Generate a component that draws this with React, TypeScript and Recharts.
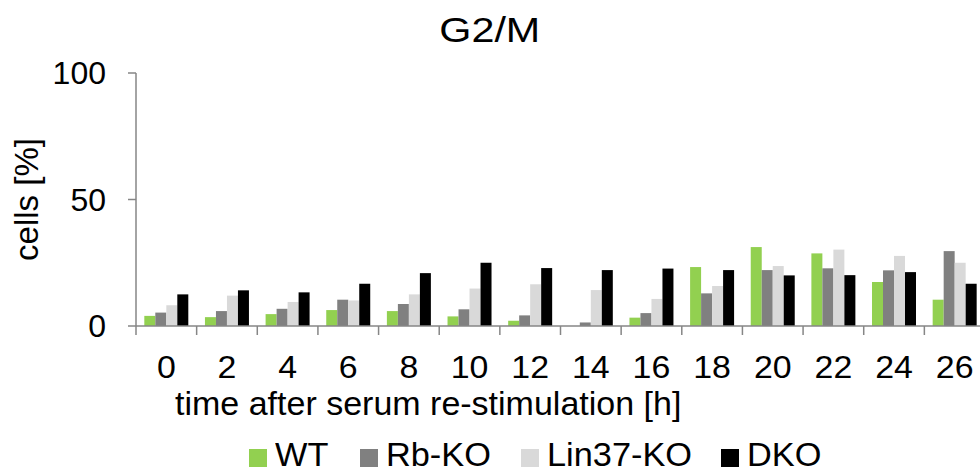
import React from 'react';
import { BarChart, Bar, XAxis, YAxis, Legend } from 'recharts';

const categories = ['0', '2', '4', '6', '8', '10', '12', '14', '16', '18', '20', '22', '24', '26'];
const wt = [4, 3.5, 4.7, 6.3, 5.9, 3.8, 2.1, 0, 3.3, 23.3, 31.2, 28.7, 17.4, 10.4];
const rbKo = [5.3, 5.9, 6.8, 10.4, 8.7, 6.6, 4.2, 1.4, 5.1, 12.9, 22.1, 22.8, 22, 29.6];
const lin37Ko = [8.2, 12, 9.5, 10.1, 12.5, 14.8, 16.5, 14.2, 10.7, 15.8, 23.7, 30.2, 27.7, 25];
const dko = [12.5, 14.1, 13.3, 16.7, 20.9, 25, 22.9, 22.1, 22.7, 22.1, 20, 20.1, 21.3, 16.7];
const yTicks = [0, 50, 100];
const seriesNames = ['WT', 'Rb-KO', 'Lin37-KO', 'DKO'];
const seriesColors = ['#92D050', '#808080', '#D9D9D9', '#000000'];

const data = categories.map((t, i) => ({
  t,
  WT: wt[i],
  'Rb-KO': rbKo[i],
  'Lin37-KO': lin37Ko[i],
  DKO: dko[i],
}));

const FONT = '"Liberation Sans", Arial, sans-serif';
const AXIS = '#868686';

const XTick = (props: any) => {
  const { x, y, payload } = props;
  const half = payload && typeof payload.offset === 'number' && payload.offset > 0 ? payload.offset : 30.3;
  return (
    <g>
      <line x1={x - half} y1={y} x2={x - half} y2={y + 9} stroke={AXIS} strokeWidth={1.5} />
      <text
        x={x}
        y={y + 52}
        textAnchor="middle"
        fontSize={32}
        fontFamily={FONT}
        fill="#000"
        transform={`translate(${x} 0) scale(1.06 1) translate(${-x} 0)`}
      >
        {payload.value}
      </text>
    </g>
  );
};

const XLabel = (props: any) => {
  const vb = props.viewBox || { x: 136, y: 326 };
  return (
    <text x={vb.x + 39} y={vb.y + 89} textAnchor="start" fontSize={34} fontFamily={FONT} fill="#000">
      time after serum re-stimulation [h]
    </text>
  );
};

const YLabel = (props: any) => {
  const vb = props.viewBox || { x: 0, y: 73, width: 136, height: 253 };
  const cx = vb.x + 38;
  const cy = vb.y + vb.height / 2;
  return (
    <text
      x={cx}
      y={cy}
      transform={`rotate(-90, ${cx}, ${cy})`}
      textAnchor="middle"
      fontSize={33}
      fontFamily={FONT}
      fill="#000"
    >
      cells [%]
    </text>
  );
};

const LegendContent = () => {
  return (
    <div style={{ display: 'flex', alignItems: 'flex-start', fontFamily: FONT }}>
      {seriesNames.map((name, i) => (
        <div key={name} style={{ display: 'flex', alignItems: 'flex-start', marginRight: 30 }}>
          <div style={{ width: 18, height: 18, background: seriesColors[i], marginTop: 9.5, marginRight: 8 }} />
          <div
            style={{
              fontSize: 33,
              lineHeight: '30px',
              color: '#000',
              whiteSpace: 'nowrap',
              display: 'inline-block',
              transform: 'scaleX(1.04)',
              transformOrigin: 'left center',
              marginRight: 4,
            }}
          >
            {name}
          </div>
        </div>
      ))}
    </div>
  );
};

export default function App() {
  return (
    <div style={{ position: 'absolute', left: 0, top: 0, width: 980, height: 471, overflow: 'hidden', background: '#fff' }}>
      <div
        style={{
          position: 'absolute',
          left: 0,
          top: 12,
          width: 980,
          textAlign: 'center',
          fontFamily: FONT,
          fontSize: 35,
          lineHeight: '36px',
          color: '#000',
        }}
      >
        <span style={{ display: 'inline-block', transform: 'scaleX(1.18)' }}>G2/M</span>
      </div>
      <BarChart
        width={1000}
        height={471}
        data={data}
        margin={{ top: 73, right: 15, bottom: 0, left: 0 }}
        barCategoryGap="13.7%"
        barGap={0}
      >
        <XAxis
          dataKey="t"
          height={145}
          tickLine={false}
          tickSize={0}
          tickMargin={0}
          axisLine={{ stroke: AXIS, strokeWidth: 1.5 }}
          tick={<XTick />}
          interval={0}
          label={<XLabel />}
        />
        <YAxis
          width={136}
          domain={[0, 100]}
          ticks={yTicks}
          tickSize={8}
          tickMargin={22}
          axisLine={{ stroke: AXIS, strokeWidth: 1.5 }}
          tickLine={{ stroke: AXIS, strokeWidth: 1.5 }}
          tick={{ fontSize: 32, fontFamily: FONT, fill: '#000' }}
          label={<YLabel />}
        />
        <Legend
          layout="horizontal"
          verticalAlign="middle"
          align="center"
          wrapperStyle={{ top: 439.5, left: 249, width: 720 }}
          content={<LegendContent />}
        />
        {seriesNames.map((name, i) => (
          <Bar key={name} dataKey={name} fill={seriesColors[i]} isAnimationActive={false} />
        ))}
      </BarChart>
    </div>
  );
}
